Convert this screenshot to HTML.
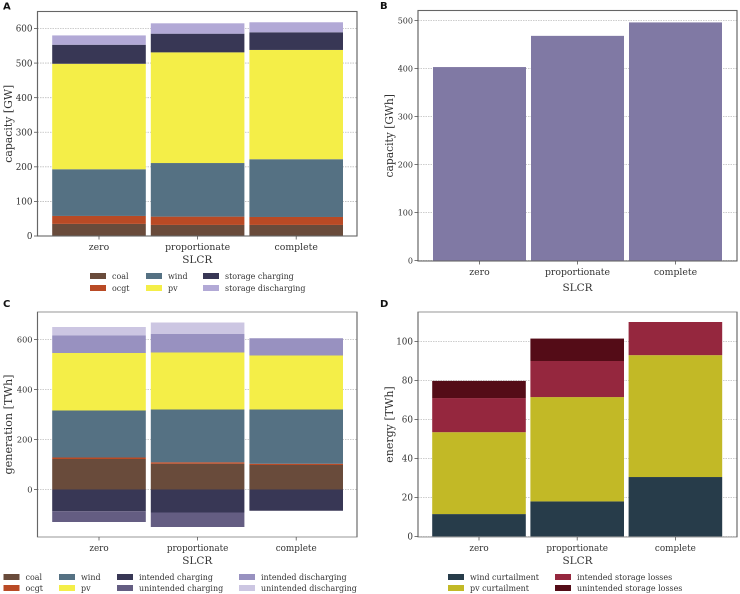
<!DOCTYPE html>
<html>
<head>
<meta charset="utf-8">
<style>
html,body{margin:0;padding:0;background:#fff;width:740px;height:594px;overflow:hidden}
svg{display:block;filter:blur(0.35px)}
text{font-family:"DejaVu Serif","Liberation Serif",serif;fill:#333}
.letter{font-family:"DejaVu Sans","Liberation Sans",sans-serif;font-weight:700;fill:#111;font-size:10px}
</style>
</head>
<body>
<svg id="fig" width="740" height="594" viewBox="0 0 740 594" xmlns="http://www.w3.org/2000/svg"></svg>
<script>
const categories = ['zero', 'proportionate', 'complete'];

// Panel A: capacity [GW]
const aCoal = [35, 32, 32];
const aOcgt = [23, 24, 23];
const aWind = [135, 155, 167];
const aPv = [305, 320, 316];
const aCharging = [55, 54, 51];
const aDischarging = [27, 30, 29];
const aTicks = [0, 100, 200, 300, 400, 500, 600];

// Panel B: capacity [GWh]
const bStorage = [403, 468, 496];
const bTicks = [0, 100, 200, 300, 400, 500];

// Panel C: generation [TWh]
const cCoal = [122, 103, 98];
const cOcgt = [6, 6, 5];
const cWind = [188, 211, 217];
const cPv = [230, 228, 216];
const cIntendedDischarging = [70, 74, 69];
const cUnintendedDischarging = [34, 46, 0];
const cIntendedCharging = [-87, -92, -85];
const cUnintendedCharging = [-43, -58, 0];
const cTicks = [0, 200, 400, 600];

// Panel D: energy [TWh]
const dWind = [11.5, 18, 30.5];
const dPv = [42, 53.5, 62.5];
const dIntended = [17.5, 18.5, 17];
const dUnintended = [8.8, 11.5, 0];
const dTicks = [0, 20, 40, 60, 80, 100];

const colors = {
  coal:'#694b3b', ocgt:'#b94a25', wind:'#557183', pv:'#f4ee48',
  chg:'#383755', dis:'#b2a9d6', stor:'#8079a4',
  idis:'#9891c0', udis:'#ccc6e2', uchg:'#645d82',
  wcurt:'#273c4a', pcurt:'#c2b926', iloss:'#95273e', uloss:'#540c17'
};

const svg = document.getElementById('fig');
const NS = 'http://www.w3.org/2000/svg';
function mk(tag, attrs, parent, txt){
  const el = document.createElementNS(NS, tag);
  for (const k in attrs) el.setAttribute(k, attrs[k]);
  if (txt !== undefined) el.textContent = txt;
  (parent || svg).appendChild(el);
  return el;
}

function drawPanel(p){
  const g = mk('g', {});
  
  

  const yScale = v => p.y0 + (p.yRefPx - p.y0) * v / p.yRefVal;
  const xCenter = i => p.xc0 + i * p.step;
  const barW = p.barW;

  // grid
  p.ticks.forEach(t => {
    const line = mk('line', {x1:p.left, x2:p.right, y1:yScale(t), y2:yScale(t), stroke:'#bdbdbd', 'stroke-width':0.8, 'stroke-dasharray':'1.5 1'}, g);
    
    
  });

  // stacked bars
  p.series.forEach(s => {
    categories.forEach((c, i) => {
      const base = s.base ? s.base.reduce((acc, arr) => acc + arr[i], 0) : 0;
      const v = s.values[i];
      if (v === 0) return;
      const y1 = yScale(base), y2 = yScale(base + v);
      const r = mk('rect', {x:xCenter(i) - barW/2, y:Math.min(y1,y2), width:barW, height:Math.abs(y2-y1), fill:s.color}, g);
      
      
    });
  });

  // spines
  const frame = mk('rect', {x:p.left, y:p.top, width:p.right-p.left, height:p.bottom-p.top, fill:'none', stroke:p.frameColor, 'stroke-width':1.1}, g);
  
  
  const leftSpine = mk('line', {x1:p.left, x2:p.left, y1:p.top, y2:p.bottom, stroke:'#666', 'stroke-width':1.1}, g);
  
  
  const rightSpine = mk('line', {x1:p.right, x2:p.right, y1:p.top, y2:p.bottom, stroke:'#666', 'stroke-width':1.1}, g);
  
  

  // y ticks
  p.ticks.forEach(t => {
    mk('line', {x1:p.left-3.5, x2:p.left, y1:yScale(t), y2:yScale(t), stroke:'#555', 'stroke-width':0.8}, g);
    const lab = mk('text', {x:p.left-5, y:yScale(t)+3.2, 'text-anchor':'end', 'font-size':p.tickFs}, g, String(t));
    
    
  });

  // x ticks
  categories.forEach((c, i) => {
    mk('line', {x1:xCenter(i), x2:xCenter(i), y1:p.bottom, y2:p.bottom+3.5, stroke:'#555', 'stroke-width':0.8}, g);
    const lab = mk('text', {x:xCenter(i), y:p.bottom+p.xTickDy, 'text-anchor':'middle', 'font-size':p.xTickFs}, g, c);
    
    
  });

  // axis titles
  const xt = mk('text', {x:(p.left+p.right)/2, y:p.bottom+p.xTitleDy, 'text-anchor':'middle', 'font-size':10.5}, g, 'SLCR');
  
  
  const ycy = (p.top+p.bottom)/2 + (p.yTitleDy || 0);
  const yt = mk('text', {x:p.yTitleX, y:ycy, 'text-anchor':'middle', 'font-size':p.yTitleFs, transform:'rotate(-90 '+p.yTitleX+' '+ycy+')'}, g, p.yTitle);
  
  

  // panel letter
  const l = mk('text', {x:p.letterX, y:p.letterY, class:'letter'}, g, p.letter);
  
  

  // legend
  (p.legend || []).forEach(e => {
    const sw = mk('rect', {x:e.x, y:e.y-3, width:16, height:6, fill:e.color}, g);
    
    
    const t = mk('text', {x:e.x+22, y:e.y+3, 'font-size':7.95}, g, e.label);
    
    
  });
}

drawPanel({
  id:'capacity-gw', letter:'A', letterX:3, letterY:9.5, frameColor:'#666',
  left:37.5, right:357, top:11.5, bottom:236,
  y0:236, yRefPx:28.5, yRefVal:600,
  xc0:99, step:98.6, barW:93.6,
  ticks:aTicks, tickFs:8.8, xTickFs:9.3, xTickDy:14, xTitleDy:27,
  yTitle:'capacity [GW]', yTitleX:12, yTitleFs:10.9,
  series:[
    {name:'coal', color:colors.coal, values:aCoal},
    {name:'ocgt', color:colors.ocgt, values:aOcgt, base:[aCoal]},
    {name:'wind', color:colors.wind, values:aWind, base:[aCoal,aOcgt]},
    {name:'pv', color:colors.pv, values:aPv, base:[aCoal,aOcgt,aWind]},
    {name:'storage-charging', color:colors.chg, values:aCharging, base:[aCoal,aOcgt,aWind,aPv]},
    {name:'storage-discharging', color:colors.dis, values:aDischarging, base:[aCoal,aOcgt,aWind,aPv,aCharging]}
  ],
  legend:[
    {x:90,y:276,color:colors.coal,label:'coal'},{x:90,y:288,color:colors.ocgt,label:'ocgt'},
    {x:146,y:276,color:colors.wind,label:'wind'},{x:146,y:288,color:colors.pv,label:'pv'},
    {x:203,y:276,color:colors.chg,label:'storage charging'},{x:203,y:288,color:colors.dis,label:'storage discharging'}
  ]
});

drawPanel({
  id:'capacity-gwh', letter:'B', letterX:380, letterY:9, frameColor:'#666',
  left:418, right:737, top:10.5, bottom:261,
  y0:260.5, yRefPx:20.5, yRefVal:500,
  xc0:479.5, step:98, barW:93,
  ticks:bTicks, tickFs:8, xTickFs:9.3, xTickDy:14, xTitleDy:30,
  yTitle:'capacity [GWh]', yTitleX:393, yTitleFs:10.7,
  series:[{name:'storage-energy', color:colors.stor, values:bStorage}]
});

drawPanel({
  id:'generation-twh', letter:'C', letterX:3, letterY:307, frameColor:'#a0a0a0',
  left:37.5, right:357, top:312, bottom:537,
  y0:489.5, yRefPx:339.5, yRefVal:600,
  xc0:99, step:98.6, barW:93.6,
  ticks:cTicks, tickFs:8.2, xTickFs:8.8, xTickDy:14, xTitleDy:27,
  yTitle:'generation [TWh]', yTitleX:12, yTitleFs:11.2,
  series:[
    {name:'coal', color:colors.coal, values:cCoal},
    {name:'ocgt', color:colors.ocgt, values:cOcgt, base:[cCoal]},
    {name:'wind', color:colors.wind, values:cWind, base:[cCoal,cOcgt]},
    {name:'pv', color:colors.pv, values:cPv, base:[cCoal,cOcgt,cWind]},
    {name:'intended-discharging', color:colors.idis, values:cIntendedDischarging, base:[cCoal,cOcgt,cWind,cPv]},
    {name:'unintended-discharging', color:colors.udis, values:cUnintendedDischarging, base:[cCoal,cOcgt,cWind,cPv,cIntendedDischarging]},
    {name:'intended-charging', color:colors.chg, values:cIntendedCharging},
    {name:'unintended-charging', color:colors.uchg, values:cUnintendedCharging, base:[cIntendedCharging]}
  ],
  legend:[
    {x:3.5,y:577,color:colors.coal,label:'coal'},{x:3.5,y:588,color:colors.ocgt,label:'ocgt'},
    {x:59,y:577,color:colors.wind,label:'wind'},{x:59,y:588,color:colors.pv,label:'pv'},
    {x:117,y:577,color:colors.chg,label:'intended charging'},{x:117,y:588,color:colors.uchg,label:'unintended charging'},
    {x:239,y:577,color:colors.idis,label:'intended discharging'},{x:239,y:588,color:colors.udis,label:'unintended discharging'}
  ]
});

drawPanel({
  id:'energy-twh', letter:'D', letterX:380, letterY:307, frameColor:'#a0a0a0',
  left:418, right:737, top:312, bottom:537,
  y0:536.5, yRefPx:341.5, yRefVal:100,
  xc0:479, step:98.2, barW:93.6,
  ticks:dTicks, tickFs:8.8, xTickFs:8.8, xTickDy:14, xTitleDy:27,
  yTitle:'energy [TWh]', yTitleX:393, yTitleFs:11,
  series:[
    {name:'wind-curtailment', color:colors.wcurt, values:dWind},
    {name:'pv-curtailment', color:colors.pcurt, values:dPv, base:[dWind]},
    {name:'intended-storage-losses', color:colors.iloss, values:dIntended, base:[dWind,dPv]},
    {name:'unintended-storage-losses', color:colors.uloss, values:dUnintended, base:[dWind,dPv,dIntended]}
  ],
  legend:[
    {x:448,y:577,color:colors.wcurt,label:'wind curtailment'},{x:448,y:588,color:colors.pcurt,label:'pv curtailment'},
    {x:555,y:577,color:colors.iloss,label:'intended storage losses'},{x:555,y:588,color:colors.uloss,label:'unintended storage losses'}
  ]
});
</script>
</body>
</html>
